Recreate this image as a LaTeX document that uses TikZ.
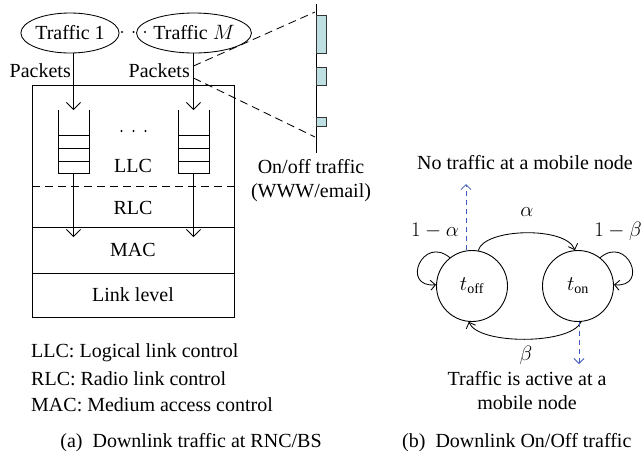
\documentclass[tikz,border=0pt]{standalone}
\usepackage{fontspec}
\setmainfont{Liberation Serif}
\usetikzlibrary{arrows.meta,shapes.geometric}
\definecolor{pulsefill}{RGB}{191,224,227}
\definecolor{hintblue}{RGB}{60,90,185}
\tikzset{
  every node/.style={font=\fontsize{20}{24}\selectfont, inner sep=0pt},
  thin line/.style={line width=0.85pt},
  barb/.style={-{Straight Barb[length=7pt,width=14pt,line width=0.85pt]}},
  smallbarb/.style={-{Straight Barb[length=5pt,width=10pt,line width=0.85pt]}},
  source/.style={ellipse, draw, thin line, minimum width=94pt, minimum height=40pt},
  state/.style={circle, draw, line width=0.9pt, minimum size=71pt},
  pulse/.style={draw=black!80, fill=pulsefill, line width=0.8pt},
  hint/.style={draw=hintblue, line width=0.8pt, dash pattern=on 5pt off 4pt,
    -{Straight Barb[length=5pt,width=10pt,line width=0.8pt]}},
  zoomline/.style={thin line, dash pattern=on 8pt off 5pt},
  dot/.style={circle, fill=black, minimum size=2.2pt},
}
\begin{document}
\begin{tikzpicture}[x=1pt,y=-1pt]
\useasboundingbox (0,0) rectangle (641,456);

% ---------- (a) traffic sources and the RNC/BS protocol stack ----------
\node[source] (src1) at (70,33) {Traffic 1};
\node[source] (srcM) at (194,33) {Traffic $M$};
\foreach \i/\x in {1/122,2/133.5,3/145}
  \node[dot] (srcdot\i) at (\x,32) {};

\node[anchor=east] (pk1) at (71,71) {Packets};
\node[anchor=east] (pkM) at (190,71) {Packets};

% stack frame and layer boundaries
\node[draw, thin line, minimum width=202pt, minimum height=232pt, anchor=north west] (stack) at (32,85) {};
\coordinate (llcL) at (32,186);  \coordinate (llcR) at (234,186);
\coordinate (rlcL) at (32,227);  \coordinate (rlcR) at (234,227);
\coordinate (macL) at (32,273);  \coordinate (macR) at (234,273);
\draw[thin line, dash pattern=on 8pt off 5pt] (llcL) -- (llcR);
\draw[thin line] (rlcL) -- (rlcR);
\draw[thin line] (macL) -- (macR);

\node (llc) at (133,166) {LLC};
\node (rlc) at (133,208) {RLC};
\node (mac) at (133,250) {MAC};
\node (link) at (133,295) {Link level};

% queues
\foreach \q/\x in {q1/58, qM/178}{
  \draw[thin line] (\x,110) -- (\x,173) -- ({\x+31},173) -- ({\x+31},110);
  \draw[thin line] (\x,135) -- ({\x+31},135);
  \draw[thin line] (\x,148) -- ({\x+31},148);
  \draw[thin line] (\x,161) -- ({\x+31},161);
  \coordinate (\q top) at ({\x+15.5},110);
  \coordinate (\q bot) at ({\x+15.5},173);
}
\foreach \i/\x in {1/121.5,2/133.5,3/145.5}
  \node[dot] (qdot\i) at (\x,131) {};

\coordinate (q1in) at (73.5,110);
\coordinate (qMin) at (193.5,110);
\coordinate (q1out) at (73.5,237);
\coordinate (qMout) at (193.5,237);
\draw[thin line, barb] (src1.south -| q1in) -- (q1in);
\draw[thin line, barb] (srcM.south -| qMin) -- (qMin);
\draw[thin line, barb] (q1bot) -- (q1out);
\draw[thin line, barb] (qMbot) -- (qMout);

% on/off pulse train and its magnifier lines
\coordinate (axisTop) at (316.5,4);
\coordinate (axisBot) at (316.5,153);
\draw[thin line] (axisTop) -- (axisBot);
\draw[pulse] (316.5,15) rectangle (326.5,53);
\draw[pulse] (316.5,67) rectangle (326.5,85);
\draw[pulse] (316.5,117) rectangle (326.5,126);
\coordinate (zoomA) at (193.5,66);
\coordinate (zoomB) at (193.5,78);
\coordinate (zoomTop) at (315,12);
\coordinate (zoomBot) at (315,137);
\draw[zoomline] (zoomA) -- (zoomTop);
\draw[zoomline] (zoomB) -- (zoomBot);

\node[align=center] (onoff) at (311,181) {On/off traffic\\(WWW/email)};

% legend and caption
\node[anchor=west] (lg1) at (31,353) {LLC: Logical link control};
\node[anchor=west] (lg2) at (31,379) {RLC: Radio link control};
\node[anchor=west] (lg3) at (31,405) {MAC: Medium access control};
\node (capa) at (191,443) {(a)\enspace Downlink traffic at RNC/BS};

% ---------- (b) two-state on/off Markov chain ----------
\node[state] (toff) at (472,286) {$t_{\mathrm{off}}$};
\node[state] (ton) at (578,286) {$t_{\mathrm{on}}$};

\draw[thin line, smallbarb] (toff.80) .. controls (484,228) and (566,226) .. (ton.95);
\draw[thin line, smallbarb] (ton.-85) .. controls (571,345) and (478,345) .. (toff.-95);
\draw[thin line, smallbarb] (toff.128) to[out=140,in=185,looseness=3] (toff.178);
\draw[thin line, smallbarb] (ton.52) to[out=40,in=-5,looseness=3] (ton.2);

\node (alpha) at (527,212) {$\alpha$};
\node (beta) at (526,355) {$\beta$};
\node (stayoff) at (435,231) {$1-\alpha$};
\node (stayon) at (618,231) {$1-\beta$};

\node (notraffic) at (525,163) {No traffic at a mobile node};
\node[align=center] (active) at (527,391) {Traffic is active at a\\mobile node};

\coordinate (upTip) at (466,184);
\coordinate (downTip) at (579,364);
\draw[hint] (toff.north -| upTip) -- (upTip);
\draw[hint] (ton.south -| downTip) -- (downTip);

\node[anchor=west] (capb) at (402,443) {(b)\enspace Downlink On/Off traffic};
\end{tikzpicture}
\end{document}
